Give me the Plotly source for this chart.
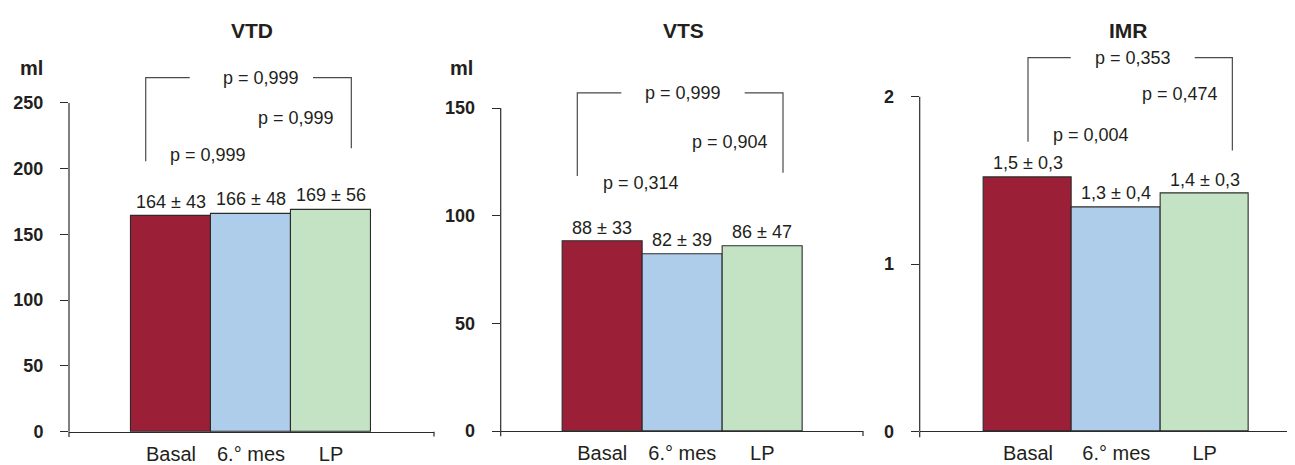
import plotly.graph_objects as go

# ---------------- data ----------------
categories = ["Basal", "6.° mes", "LP"]
vtd_values = [164, 166, 169]
vts_values = [88, 82, 86]
imr_values = [1.52, 1.34, 1.42]
vtd_labels = ["164 ± 43", "166 ± 48", "169 ± 56"]
vts_labels = ["88 ± 33", "82 ± 39", "86 ± 47"]
imr_labels = ["1,5 ± 0,3", "1,3 ± 0,4", "1,4 ± 0,3"]
# p-values: [Basal vs LP (bracket), 6.° mes vs LP, Basal vs 6.° mes]
vtd_p = ["p = 0,999", "p = 0,999", "p = 0,999"]
vts_p = ["p = 0,999", "p = 0,904", "p = 0,314"]
imr_p = ["p = 0,353", "p = 0,474", "p = 0,004"]
titles = ["VTD", "VTS", "IMR"]
units = ["ml", "ml", ""]
vtd_ticks = [0, 50, 100, 150, 200, 250]
vts_ticks = [0, 50, 100, 150]
imr_ticks = [0, 1, 2]

# ---------------- styling / layout ----------------
W, H = 1295, 465
FONT = "Liberation Sans, Arial, Helvetica, sans-serif"
TXT = "#231f20"
LINE = "#2b2b2b"
BR = "#4a4a4a"
bar_colors = ["#9b1f37", "#aecdea", "#c4e3c5"]

panels = [
    dict(values=vtd_values, labels=vtd_labels, p=vtd_p, ticks=vtd_ticks,
         xpx=(61, 426), xrange=(-1.275, 3.2875), zero_px=433, scale=1.344, ytop=285,
         br=dict(l=-0.316, r=2.254, top=269.3, lb=205.6, rb=215.6, g0=0.234, g1=1.775),
         ppos=[(1.125, 269.3), (1.566, 238.3), (0.4625, 210.6)],
         title_px=(244, 23), unit_px=(23.3, 61.7)),
    dict(values=vts_values, labels=vts_labels, p=vts_p, ticks=vts_ticks,
         xpx=(492.7, 855), xrange=(-1.27, 3.259), zero_px=432.3, scale=2.2, ytop=175,
         br=dict(l=-0.3125, r=2.259, top=157.1, lb=118.5, rb=120.0, g0=0.2375, g1=1.78),
         ppos=[(1.009, 157.1), (1.6, 134.4), (0.48, 115.1)],
         title_px=(675, 23), unit_px=(453.3, 61.7)),
    dict(values=imr_values, labels=imr_labels, p=imr_p, ticks=imr_ticks,
         xpx=(911.7, 1295), xrange=(-1.2265, 3.114), zero_px=432.7, scale=171.0, ytop=2.45,
         br=dict(l=0.0, r=2.314, top=2.234, lb=1.731, rb=1.678, g0=0.484, g1=1.888),
         ppos=[(1.189, 2.23), (1.718, 2.018), (0.717, 1.770)],
         title_px=(1120, 23), unit_px=None),
]

fig = go.Figure()
annotations = []
shapes = []
layout_axes = {}

for i, pnl in enumerate(panels):
    n = "" if i == 0 else str(i + 1)
    xa, ya = "x" + n, "y" + n
    fig.add_trace(go.Bar(
        x=list(range(len(categories))), y=pnl["values"],
        marker=dict(color=bar_colors, line=dict(color=LINE, width=1.1)),
        width=1.0, xaxis=xa, yaxis=ya, showlegend=False, hoverinfo="skip",
    ))
    top_px = pnl["zero_px"] - pnl["ytop"] * pnl["scale"]
    layout_axes["xaxis" + n] = dict(
        domain=[pnl["xpx"][0] / W, pnl["xpx"][1] / W], range=list(pnl["xrange"]),
        anchor=ya, tickvals=list(range(len(categories))), ticktext=categories,
        ticks="", showline=True, linecolor=LINE, linewidth=1.2, showgrid=False,
        zeroline=False, tickfont=dict(size=20, color=TXT, family=FONT),
        ticklabelstandoff=4, fixedrange=True,
    )
    layout_axes["yaxis" + n] = dict(
        domain=[1 - pnl["zero_px"] / H, 1 - top_px / H], range=[0, pnl["ytop"]],
        anchor=xa, tickvals=pnl["ticks"],
        ticktext=["<b>" + str(t) + "</b>" for t in pnl["ticks"]],
        ticks="outside", ticklen=8, tickwidth=1.2, tickcolor=LINE,
        showline=False, showgrid=False, zeroline=False,
        tickfont=dict(size=18, color=TXT, family=FONT),
        ticklabelstandoff=13, fixedrange=True,
    )
    # y axis line only up to the last tick, with a small overshoot below the x axis
    shapes.append(dict(type="line", xref=xa + " domain", yref=ya, x0=0, x1=0,
                       y0=0, y1=pnl["ticks"][-1], line=dict(color=LINE, width=1.2)))
    shapes.append(dict(type="line", xref=xa + " domain", yref=ya + " domain", x0=0, x1=0,
                       y0=0, y1=-0.014, line=dict(color=LINE, width=1.2)))
    # small end tick on x axis
    shapes.append(dict(type="line", xref=xa + " domain", yref=ya + " domain", x0=1, x1=1,
                       y0=0, y1=-0.013, line=dict(color=LINE, width=1.2)))
    # bracket
    b = pnl["br"]
    shapes.append(dict(type="path", xref=xa, yref=ya,
                       path=f"M {b['l']},{b['lb']} L {b['l']},{b['top']} L {b['g0']},{b['top']}",
                       line=dict(color=BR, width=1.2)))
    shapes.append(dict(type="path", xref=xa, yref=ya,
                       path=f"M {b['g1']},{b['top']} L {b['r']},{b['top']} L {b['r']},{b['rb']}",
                       line=dict(color=BR, width=1.2)))
    # p-value texts
    for txt, (px_, py_) in zip(pnl["p"], pnl["ppos"]):
        annotations.append(dict(xref=xa, yref=ya, x=px_, y=py_, text=txt, showarrow=False,
                                xanchor="center", yanchor="middle",
                                font=dict(size=18, color=TXT, family=FONT)))
    # value labels
    for k, (v, lab) in enumerate(zip(pnl["values"], pnl["labels"])):
        annotations.append(dict(xref=xa, yref=ya, x=k, y=v, text=lab, showarrow=False,
                                xanchor="center", yanchor="bottom", yshift=2,
                                font=dict(size=18, color=TXT, family=FONT)))
    # title
    annotations.append(dict(xref="paper", yref="paper", x=pnl["title_px"][0] / W,
                            y=1 - pnl["title_px"][1] / H, text="<b>" + titles[i] + "</b>",
                            showarrow=False, xanchor="center", yanchor="middle",
                            font=dict(size=21, color=TXT, family=FONT)))
    if units[i]:
        annotations.append(dict(xref="paper", yref="paper", x=pnl["unit_px"][0] / W,
                                y=1 - pnl["unit_px"][1] / H, text="<b>" + units[i] + "</b>",
                                showarrow=False, xanchor="center", yanchor="middle",
                                font=dict(size=20, color=TXT, family=FONT)))

fig.update_layout(
    width=W, height=H, margin=dict(l=0, r=0, t=0, b=0),
    paper_bgcolor="white", plot_bgcolor="white",
    bargap=0, annotations=annotations, shapes=shapes,
    font=dict(family=FONT, color=TXT),
    **layout_axes,
)

fig.write_html("out.html", config={"displayModeBar": False})
